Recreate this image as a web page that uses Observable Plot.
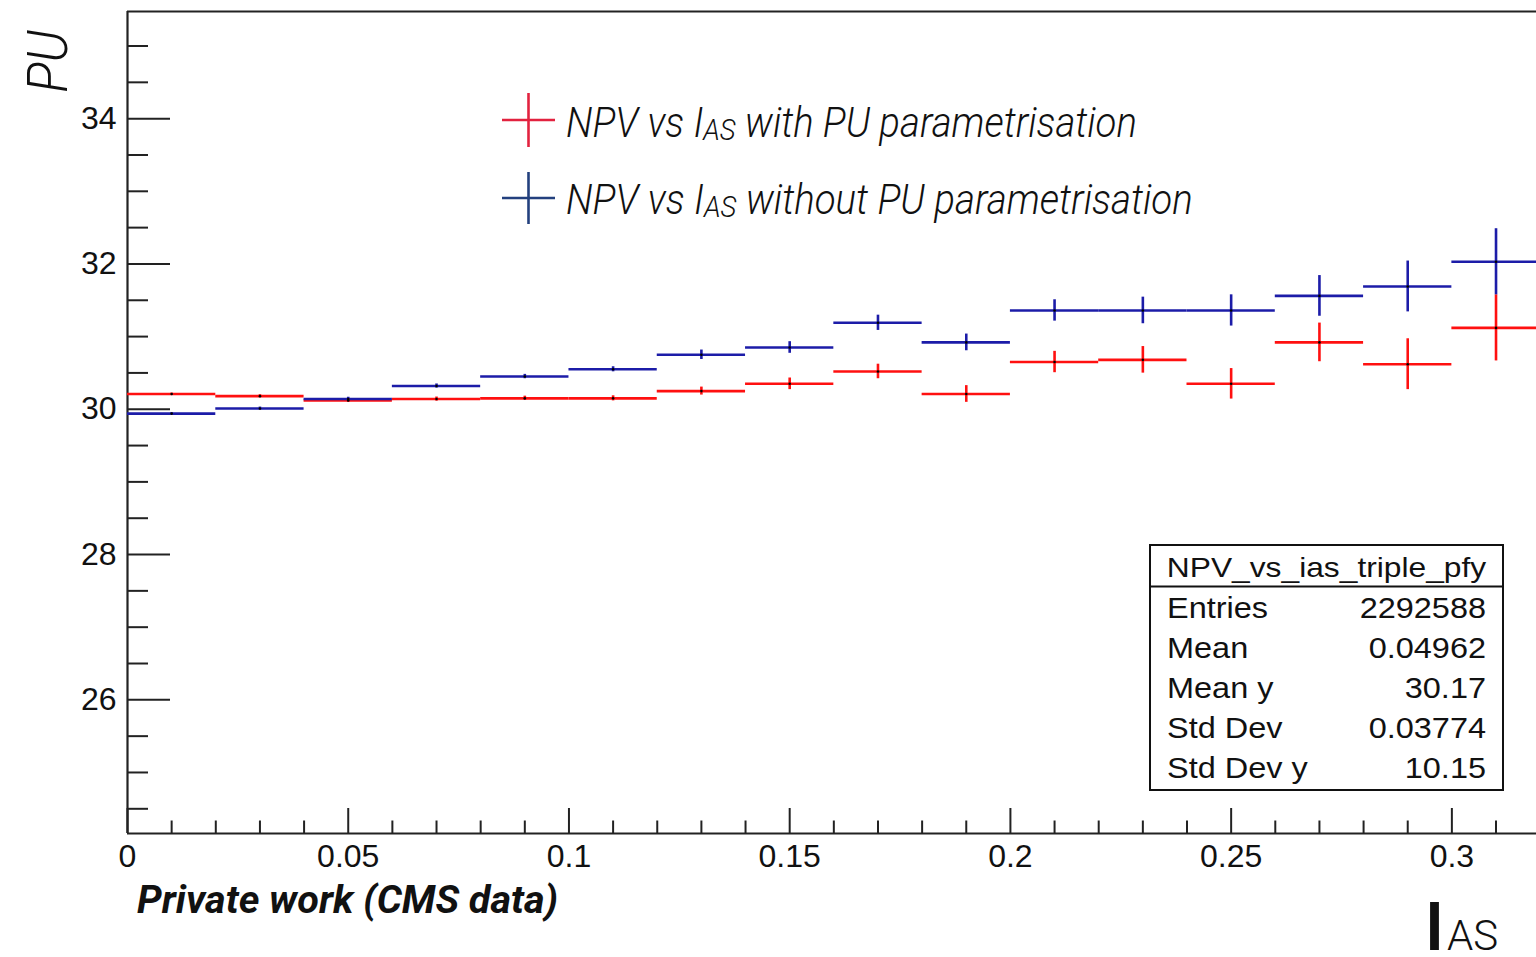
<!DOCTYPE html>
<html>
<head>
<meta charset="utf-8">
<script src="https://cdn.jsdelivr.net/npm/d3@7"></script>
<script src="https://cdn.jsdelivr.net/npm/@observablehq/plot@0.6"></script>
<style>
  html, body { margin: 0; padding: 0; background: #fff; overflow: hidden; }
  #chart svg { display: block; }
</style>
</head>
<body>
<div id="chart"></div>
<script>
// Profile of the number of primary vertices (PU) in bins of I_AS
const binLow = [0.00, 0.02, 0.04, 0.06, 0.08, 0.10, 0.12, 0.14, 0.16, 0.18, 0.20, 0.22, 0.24, 0.26, 0.28, 0.30];
const binWidth = 0.02;

const npvWithPU     = [30.21, 30.18, 30.12, 30.14, 30.15, 30.15, 30.25, 30.35, 30.52, 30.21, 30.65, 30.68, 30.35, 30.92, 30.62, 31.12];
const npvWithPUErr  = [0.012, 0.02, 0.025, 0.028, 0.03, 0.035, 0.055, 0.08, 0.10, 0.115, 0.147, 0.183, 0.21, 0.266, 0.35, 0.455];
const npvWithoutPU    = [29.94, 30.01, 30.14, 30.32, 30.45, 30.55, 30.75, 30.85, 31.19, 30.92, 31.36, 31.36, 31.36, 31.56, 31.69, 32.03];
const npvWithoutPUErr = [0.012, 0.02, 0.025, 0.028, 0.03, 0.035, 0.065, 0.08, 0.105, 0.115, 0.147, 0.183, 0.215, 0.28, 0.35, 0.455];

const seriesKeys = ["with", "without"];
const seriesLabels = ["with PU parametrisation", "without PU parametrisation"];

// Axis ticks
const xMajorTicks = [0, 0.05, 0.1, 0.15, 0.2, 0.25, 0.3];
const xMinorTicks = [0.01, 0.02, 0.03, 0.04, 0.06, 0.07, 0.08, 0.09, 0.11, 0.12, 0.13, 0.14, 0.16, 0.17, 0.18, 0.19, 0.21, 0.22, 0.23, 0.24, 0.26, 0.27, 0.28, 0.29, 0.31];
const xTickLabels = ["0", "0.05", "0.1", "0.15", "0.2", "0.25", "0.3"];
const yMajorTicks = [26, 28, 30, 32, 34];
const yMinorTicks = [24.5, 25, 25.5, 26.5, 27, 27.5, 28.5, 29, 29.5, 30.5, 31, 31.5, 32.5, 33, 33.5, 34.5, 35];
const yTickLabels = ["26", "28", "30", "32", "34"];

// Statistics box
const statTitle = "NPV_vs_ias_triple_pfy";
const statLabels = ["Entries", "Mean", "Mean y", "Std Dev", "Std Dev y"];
const statValues = ["2292588", "0.04962", "30.17", "0.03774", "10.15"];

// Layout
const W = 1536, H = 957;
const margin = {top: 11, right: 0, bottom: 124, left: 127};
const frameW = W - margin.left - margin.right;
const frameH = H - margin.top - margin.bottom;
const xDomain = [0, 0.31917];
const yDomain = [24.16, 35.475];

const dataColor = {with: "#ff1010", without: "#1c1ca8"};
const legendColor = {with: "#e2223f", without: "#23407e"};
const axisColor = "#222";

function binRows(values, errors, series) {
  return binLow.map((lo, i) => ({series, lo, hi: lo + binWidth, mid: lo + binWidth / 2, v: values[i], e: errors[i]}));
}
const rows = [
  ...binRows(npvWithPU, npvWithPUErr, "with"),
  ...binRows(npvWithoutPU, npvWithoutPUErr, "without")
];

const chart = Plot.plot({
  width: W,
  height: H,
  marginTop: margin.top,
  marginRight: margin.right,
  marginBottom: margin.bottom,
  marginLeft: margin.left,
  style: {fontFamily: "'Liberation Sans', Arial, sans-serif", background: "#fff", overflow: "hidden"},
  x: {domain: xDomain, axis: null},
  y: {domain: yDomain, axis: null},
  color: {domain: seriesKeys, range: seriesKeys.map(k => dataColor[k])},
  marks: [
    // inward ticks
    Plot.tickX(xMajorTicks, {x: d => d, stroke: axisColor, strokeWidth: 2, insetTop: frameH - 25}),
    Plot.tickX(xMinorTicks, {x: d => d, stroke: axisColor, strokeWidth: 2, insetTop: frameH - 12.5}),
    Plot.tickY(yMajorTicks, {y: d => d, stroke: axisColor, strokeWidth: 2, insetRight: frameW - 43}),
    Plot.tickY(yMinorTicks, {y: d => d, stroke: axisColor, strokeWidth: 2, insetRight: frameW - 21}),
    // frame lines
    Plot.ruleX([xDomain[0]], {stroke: axisColor, strokeWidth: 2.2}),
    Plot.ruleY([yDomain[0]], {stroke: axisColor, strokeWidth: 2.2}),
    Plot.ruleY([yDomain[1]], {stroke: axisColor, strokeWidth: 2.2}),
    // tick labels
    Plot.text(xMajorTicks, {x: d => d, text: (d, i) => xTickLabels[i], frameAnchor: "bottom", lineAnchor: "top", dy: 11, fontSize: 32, fill: "#111"}),
    Plot.text(yMajorTicks, {y: d => d, text: (d, i) => yTickLabels[i], frameAnchor: "left", textAnchor: "end", lineAnchor: "middle", dx: -11, fontSize: 32, fill: "#111"}),
    // profile: bin-width bars and error bars
    Plot.ruleY(rows, {x1: "lo", x2: "hi", y: "v", stroke: "series", strokeWidth: 2.6}),
    Plot.ruleX(rows, {x: "mid", y1: d => d.v - d.e, y2: d => d.v + d.e, stroke: "series", strokeWidth: 2.6}),
    Plot.dot(rows, {x: "mid", y: "v", r: 1.3, fill: "#000", stroke: null})
  ]
});

document.getElementById("chart").appendChild(chart);

// ---- annotations: axis titles, legend, statistics box ----
const svg = d3.select(chart);
const ann = svg.append("g").attr("class", "annotations").attr("text-anchor", "start");
const sansLight = "Roboto, 'Open Sans', sans-serif";

function fitWidth(el, target) {
  const w = el.getBBox().width;
  const t = el.getAttribute("transform") || "";
  el.setAttribute("transform", `${t} scale(${target / w},1)`);
}
function stretch(el, sx) {
  const t = el.getAttribute("transform") || "";
  el.setAttribute("transform", `${t} scale(${sx},1)`);
}

// y-axis title
const yTitle = ann.append("text")
  .attr("transform", "translate(67,30) rotate(-90)")
  .attr("text-anchor", "end")
  .attr("font-family", sansLight)
  .attr("font-style", "italic")
  .attr("font-weight", 300)
  .attr("font-size", 56)
  .attr("fill", "#111")
  .text("PU");
fitWidth(yTitle.node(), 63);

// x-axis title: I with subscript AS
const xTitle = ann.append("text")
  .attr("transform", "translate(1425,950)")
  .attr("text-anchor", "start")
  .attr("font-family", sansLight)
  .attr("fill", "#111");
xTitle.append("tspan").attr("font-size", 66).attr("font-weight", 600).text("I");
xTitle.append("tspan").attr("font-size", 42).attr("font-weight", 300).attr("dx", 3).text("AS");

// caption
const caption = ann.append("text")
  .attr("transform", "translate(137,913)")
  .attr("text-anchor", "start")
  .attr("font-family", sansLight)
  .attr("font-style", "italic")
  .attr("font-weight", 700)
  .attr("font-size", 38)
  .attr("fill", "#111")
  .text("Private work (CMS data)");
fitWidth(caption.node(), 421);

// legend
const legendRows = [
  {key: "with", cy: 120, half: 27, baseline: 137, width: 571},
  {key: "without", cy: 198, half: 26, baseline: 214, width: 627}
];
legendRows.forEach((r, i) => {
  ann.append("line").attr("x1", 502).attr("x2", 555).attr("y1", r.cy).attr("y2", r.cy)
    .attr("stroke", legendColor[r.key]).attr("stroke-width", 2.6);
  ann.append("line").attr("x1", 528.5).attr("x2", 528.5).attr("y1", r.cy - r.half).attr("y2", r.cy + r.half)
    .attr("stroke", legendColor[r.key]).attr("stroke-width", 2.6);
  const t = ann.append("text")
    .attr("transform", `translate(566,${r.baseline})`)
    .attr("text-anchor", "start")
    .attr("font-family", sansLight)
    .attr("font-style", "italic")
    .attr("font-weight", 300)
    .attr("font-size", 42)
    .attr("fill", "#111");
  t.append("tspan").text("NPV vs I");
  t.append("tspan").attr("font-size", 30).attr("dy", 3).text("AS");
  t.append("tspan").attr("dy", -3).text(" " + seriesLabels[i]);
  fitWidth(t.node(), r.width);
});

// statistics box
const box = {x0: 1150, x1: 1503, y0: 545, y1: 790, sep: 586.5};
ann.append("rect").attr("x", box.x0).attr("y", box.y0)
  .attr("width", box.x1 - box.x0).attr("height", box.y1 - box.y0)
  .attr("fill", "#fff").attr("stroke", "#111").attr("stroke-width", 2);
ann.append("line").attr("x1", box.x0).attr("x2", box.x1).attr("y1", box.sep).attr("y2", box.sep)
  .attr("stroke", "#111").attr("stroke-width", 2);
const statFont = "'Liberation Sans', Arial, sans-serif";
const titleText = ann.append("text")
  .attr("transform", `translate(${(box.x0 + box.x1) / 2},577)`)
  .attr("text-anchor", "middle")
  .attr("font-family", statFont).attr("font-size", 27).attr("fill", "#111")
  .text(statTitle);
fitWidth(titleText.node(), 320);
statLabels.forEach((label, i) => {
  const base = 618 + i * 40;
  const l = ann.append("text")
    .attr("transform", `translate(1167,${base})`)
    .attr("text-anchor", "start")
    .attr("font-family", statFont).attr("font-size", 29).attr("fill", "#111")
    .text(label);
  stretch(l.node(), 1.12);
  const v = ann.append("text")
    .attr("transform", `translate(1486,${base})`)
    .attr("text-anchor", "end")
    .attr("font-family", statFont).attr("font-size", 29).attr("fill", "#111")
    .text(statValues[i]);
  stretch(v.node(), 1.12);
});
</script>
</body>
</html>
